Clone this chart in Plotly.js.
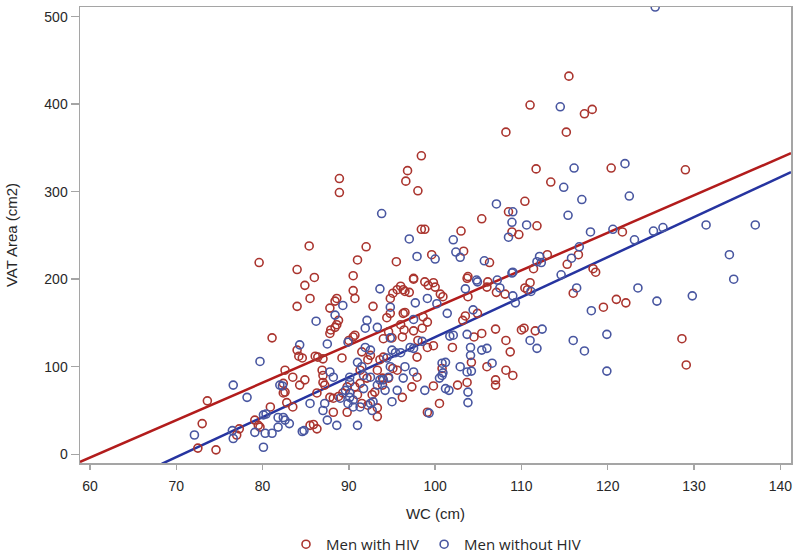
<!DOCTYPE html>
<html>
<head>
<meta charset="utf-8">
<script src="https://cdn.plot.ly/plotly-3.0.1.min.js"></script>
<style>html,body{margin:0;padding:0;background:#fff;}#chart{width:800px;height:555px;}</style>
</head>
<body>
<div id="chart"></div>
<script>
// Series names
const seriesNames = ["Men with HIV", "Men without HIV"];

// Men with HIV: [WC (cm), VAT Area (cm2)]
const hivPoints = [
[115.5,432],[111.0,399],[117.3,389],[118.2,394],[108.2,368],[115.2,368],[98.4,341],[96.8,324],[96.6,312],[98.0,301],
[111.7,326],[120.4,327],[129.0,325],[113.4,311],[110.4,289],[105.4,269],[108.5,277],[111.8,261],[98.4,257],[98.8,257],
[103.0,255],[108.9,254],[109.7,251],[121.7,254],[99.6,228],[103.3,232],[106.3,219],[103.8,203],[97.5,201],[111.4,212],
[113.0,228],[115.3,217],[116.6,228],[118.3,212],[118.6,208],
[79.6,219],[84.0,211],[86.0,202],[85.4,238],[88.9,315],[88.9,299],[91.0,222],[92.0,237],[90.5,204],[95.5,220],
[97.5,200],[98.8,197],[99.2,193],[99.8,196],[100.0,191],[96.3,188],[97.0,185],[100.6,183],[100.9,180],[96.3,161],
[98.6,157],[99.1,151],[96.4,142],[97.5,141],[98.5,144],[98.0,130],[99.1,122],[99.8,124],[97.9,111],[97.9,88],
[97.3,77],[99.8,78],[96.2,65],[99.1,48],[100.5,58],[100.8,98],[102.6,79],[103.7,82],[104.2,105],[102.0,122],
[104.5,134],[103.2,153],[103.5,158],[104.9,161],[103.8,180],[103.7,201],[106.0,191],[106.1,197],[107.1,185],[108.1,183],
[105.4,138],[107.0,143],[106.0,100],[107.0,85],[107.0,79],[108.2,130],[108.7,117],[108.2,96],[109.0,90],[110.0,142],
[110.3,144],[111.6,141],[110.4,190],[111.0,196],[110.7,188],[116.0,184],[119.5,168],[121.0,177],[122.1,173],[128.6,132],
[129.1,102],
[84.9,193],[85.5,178],[84.0,169],[90.5,187],[90.7,178],[88.6,178],[88.4,175],[87.8,167],[88.8,153],[88.4,145],
[87.8,138],[92.8,169],[90.7,136],[90.5,134],[95.1,184],[95.6,188],[94.4,156],[94.8,161],[94.0,132],[95.0,133],
[84.0,119],[84.6,110],[84.2,112],[86.1,112],[86.4,111],[87.0,109],[81.1,133],[82.6,96],[82.4,81],[83.5,88],
[84.9,85],[84.3,79],[86.9,96],[87.0,90],[87.0,82],[87.2,79],[89.2,110],[89.8,77],[90.7,77],[91.3,96],
[92.1,87],[91.5,117],[92.5,113],[92.2,108],[91.0,68],[91.5,58],[92.2,56],[93.3,53],[88.2,48],[87.8,65],
[88.2,64],[88.8,66],[89.3,70],[92.7,68],[93.0,71],[93.9,87],[94.6,87],[93.3,43],[95.1,98],[95.6,96],
[85.5,33],[85.9,34],[86.3,29],[83.5,54],[82.6,71],[82.4,70],[82.8,59],[80.9,54],[79.5,33],[79.7,31],
[79.1,39],[77.0,22],[77.3,29],[73.6,61],[73.0,35],[72.5,7],[74.6,5],[89.8,48],
[96.0,192],[96.5,186],[94.8,178],[88.6,148],[87.9,142],[90.0,130],[96.0,148],[96.5,162],[94.6,140],[96.2,134],
[86.3,70],[91.3,81],[93.3,96],[93.6,108],[94.0,111],[93.9,79]
];

// Men without HIV: [WC (cm), VAT Area (cm2)]
const noHivPoints = [
[125.5,511],[114.5,397],[93.8,275],[116.1,327],[122.0,332],[114.9,305],[117.0,291],[122.5,295],[107.1,286],[109.0,277],
[115.4,273],[108.9,265],[110.6,262],[97.0,246],[102.1,245],[108.5,248],[118.0,254],[120.6,257],[123.1,245],[125.3,255],
[126.4,259],[131.4,262],[137.1,262],[134.1,228],[134.6,200],[97.9,226],[100.0,223],[102.4,231],[102.9,225],[105.7,221],
[104.8,199],[107.2,199],[108.9,207],[112.1,226],[112.3,219],[111.8,220],[115.8,224],[116.7,237],[114.6,205],[109.0,208],
[111.1,186],[109.0,181],[109.3,173],[116.4,190],[123.5,190],[118.1,164],[112.4,143],[111.0,130],[111.8,121],[116.0,130],
[117.3,118],[119.9,137],[119.9,95],[125.7,175],[129.8,181],
[97.7,173],[99.1,178],[100.2,172],[101.4,161],[97.5,154],[98.5,129],[97.1,122],[97.5,121],[96.5,100],[97.5,94],
[96.3,87],[98.8,73],[99.3,47],[100.8,104],[101.2,105],[100.5,87],[100.8,90],[100.9,93],[101.2,75],[101.6,73],
[102.9,100],[103.7,94],[104.2,95],[103.8,71],[104.1,113],[104.1,122],[101.7,135],[102.1,136],[103.7,137],[104.4,165],
[104.9,197],[103.5,189],[107.5,190],[105.4,119],[106.0,121],[106.6,104],[103.8,59],
[89.3,170],[88.4,159],[93.6,189],[92.1,153],[91.9,144],[93.3,145],[89.9,128],[94.8,168],[86.2,152],[84.3,125],
[87.5,126],[79.7,106],[82.0,79],[88.2,88],[90.1,82],[91.7,75],[91.0,105],[91.9,122],[92.5,119],[91.5,100],
[90.1,65],[90.5,62],[89.9,58],[90.5,54],[91.3,54],[92.7,50],[92.5,58],[91.0,33],[88.6,33],[87.5,39],
[87.0,50],[89.0,64],[92.8,60],[93.3,79],[93.6,85],[94.0,85],[95.0,60],[94.6,88],[94.8,100],[94.4,110],
[95.0,119],[95.4,116],[94.8,133],[85.5,58],[83.1,35],[82.4,42],[82.6,39],[81.8,42],[81.1,24],[80.3,24],
[80.1,8],[80.1,45],[80.4,46],[79.1,25],[78.2,65],[76.6,79],[76.5,27],[76.6,18],[72.1,22],[84.6,26],
[84.8,27],[82.3,78],[81.8,31],
[87.8,94],[87.2,58],[90.1,88],[91.7,90],[92.5,88],[94.2,73],[95.6,73],[89.6,73],[90.1,70],[96.0,116]
];

// Fitted regression line endpoints
const hivFitX = [58.84, 141.24];
const hivFitY = [-8.8, 344];
const noHivFitX = [68.3, 141.24];
const noHivFitY = [-11, 322.3];

// Axis ticks
const xTicks = [60, 70, 80, 90, 100, 110, 120, 130, 140];
const yTicks = [0, 100, 200, 300, 400, 500];

const redMarker = 'rgb(170,52,46)';
const blueMarker = 'rgb(72,86,160)';
const redLine = 'rgb(178,28,28)';
const blueLine = 'rgb(38,52,160)';
const axisGrey = 'rgb(165,165,165)';
const FONT = 'Liberation Sans, Arial, sans-serif';

const traces = [
  {
    type: 'scatter', mode: 'lines', x: hivFitX, y: hivFitY,
    line: {color: redLine, width: 2.5}, showlegend: false, hoverinfo: 'skip'
  },
  {
    type: 'scatter', mode: 'lines', x: noHivFitX, y: noHivFitY,
    line: {color: blueLine, width: 2.5}, showlegend: false, hoverinfo: 'skip'
  },
  {
    type: 'scatter', mode: 'markers', name: seriesNames[0],
    x: hivPoints.map(p => p[0]), y: hivPoints.map(p => p[1]),
    marker: {symbol: 'circle-open', size: 8, color: redMarker, line: {width: 1.6, color: redMarker}}
  },
  {
    type: 'scatter', mode: 'markers', name: seriesNames[1],
    x: noHivPoints.map(p => p[0]), y: noHivPoints.map(p => p[1]),
    marker: {symbol: 'circle-open', size: 8, color: blueMarker, line: {width: 1.6, color: blueMarker}}
  }
];

const layout = {
  width: 800, height: 555,
  margin: {l: 80, r: 9, t: 7, b: 92, autoexpand: false},
  paper_bgcolor: 'white', plot_bgcolor: 'white',
  font: {family: FONT, size: 14, color: 'rgb(40,40,40)'},
  showlegend: true,
  legend: {
    orientation: 'h', x: 0.545, xanchor: 'center', xref: 'container',
    y: 0.019, yanchor: 'middle', yref: 'container',
    font: {family: 'Open Sans, sans-serif', size: 15, color: 'rgb(40,40,40)'},
    traceorder: 'normal'
  },
  xaxis: {
    range: [58.84, 141.24], tickvals: xTicks, ticktext: xTicks.map(String),
    showgrid: false, zeroline: false, showline: true, mirror: true,
    linecolor: axisGrey, linewidth: 1.5, ticks: 'outside', ticklen: 5, tickwidth: 1.5, tickcolor: axisGrey,
    ticklabelstandoff: 5,
    tickfont: {family: FONT, size: 14, color: 'rgb(40,40,40)'},
    title: {text: 'WC (cm)', font: {family: FONT, size: 15, color: 'rgb(40,40,40)'}, standoff: 15},
    automargin: false
  },
  yaxis: {
    range: [-10, 511], tickvals: yTicks, ticktext: yTicks.map(String),
    showgrid: false, zeroline: false, showline: true, mirror: true,
    linecolor: axisGrey, linewidth: 1.5, ticks: 'outside', ticklen: 8, tickwidth: 1.5, tickcolor: axisGrey,
    tickfont: {family: FONT, size: 14, color: 'rgb(40,40,40)'},
    title: {text: 'VAT Area (cm2)', font: {family: FONT, size: 15, color: 'rgb(40,40,40)'}, standoff: 23},
    automargin: false
  },
  hovermode: false
};

Plotly.newPlot('chart', traces, layout, {staticPlot: true, displayModeBar: false});
</script>
</body>
</html>
